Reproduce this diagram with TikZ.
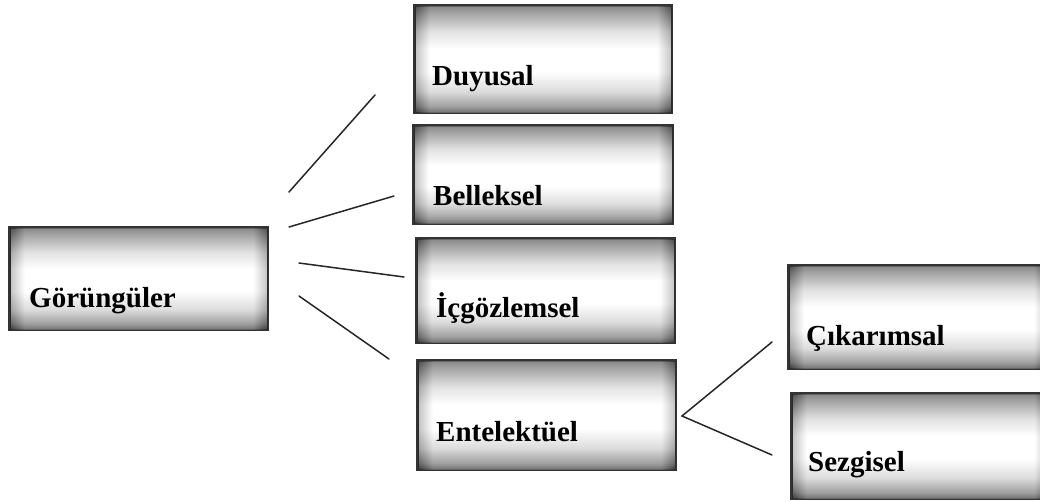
\documentclass[tikz,border=0pt]{standalone}
\usepackage{fontspec}
\setmainfont{Liberation Serif}
\pgfdeclareverticalshading{boxshade}{100bp}{color(0bp)=(black!75); color(25bp)=(black!75); color(28bp)=(black!50); color(35bp)=(black!18); color(44bp)=(white); color(55bp)=(white); color(63bp)=(black!15); color(71bp)=(black!45); color(75bp)=(black!62); color(100bp)=(black!62)}
\pgfdeclarehorizontalshading{edgeshade}{100bp}{color(0bp)=(black); color(25bp)=(black); color(28bp)=(white); color(72bp)=(white); color(75bp)=(black); color(100bp)=(black)}
\begin{document}
\begin{tikzpicture}[x=1pt,y=-1pt,
  box/.style={rectangle, draw=black!80, line width=1.6pt, shade, shading=boxshade, anchor=north west, inner sep=0pt},
  lbl/.style={anchor=base west, inner sep=0pt, font=\fontsize{29}{31}\selectfont\bfseries},
  conn/.style={draw=black!85, line width=1.5pt, line cap=round}]
\useasboundingbox (0,0) rectangle (1040,501);
% boxes
\node[box, minimum width=258pt, minimum height=102pt] (gor) at (9,227) {};
\node[box, minimum width=257pt, minimum height=107pt] (duy) at (414,5) {};
\node[box, minimum width=259pt, minimum height=98pt] (bel) at (413,125) {};
\node[box, minimum width=258pt, minimum height=104pt] (icg) at (416,238) {};
\node[box, minimum width=258pt, minimum height=109pt] (ent) at (417,360) {};
\node[box, minimum width=260pt, minimum height=103pt] (cik) at (788,265) {};
\node[box, minimum width=257pt, minimum height=105pt] (sez) at (791,393) {};
% edge darkening overlay
\foreach \b in {gor,duy,bel,icg,ent,cik,sez}{
  \shade[shading=edgeshade, opacity=0.25] (\b.north west) rectangle (\b.south east);
  \draw[draw=black!80, line width=1.6pt] (\b.north west) rectangle (\b.south east);
}
% labels
\node[lbl] (tgor) at (29,307) {Görüngüler};
\node[lbl] (tduy) at (432,85) {Duyusal};
\node[lbl] (tbel) at (433,205) {Belleksel};
\node[lbl] (ticg) at (436,317) {İçgözlemsel};
\node[lbl] (tent) at (436,441) {Entelektüel};
\node[lbl] (tcik) at (806,345) {Çıkarımsal};
\node[lbl] (tsez) at (808,471) {Sezgisel};
% connector end points
\coordinate (a1) at (289,192); \coordinate (b1) at (375,95);
\coordinate (a2) at (289,227); \coordinate (b2) at (394,196);
\coordinate (a3) at (299,263); \coordinate (b3) at (404,277);
\coordinate (a4) at (299,296); \coordinate (b4) at (389,359);
\coordinate (e0) at (682,416);
\coordinate (e1) at (772,342); \coordinate (e2) at (772,455);
\draw[conn] (a1) -- (b1);
\draw[conn] (a2) -- (b2);
\draw[conn] (a3) -- (b3);
\draw[conn] (a4) -- (b4);
\draw[conn] (e1) -- (e0) -- (e2);
\end{tikzpicture}
\end{document}
